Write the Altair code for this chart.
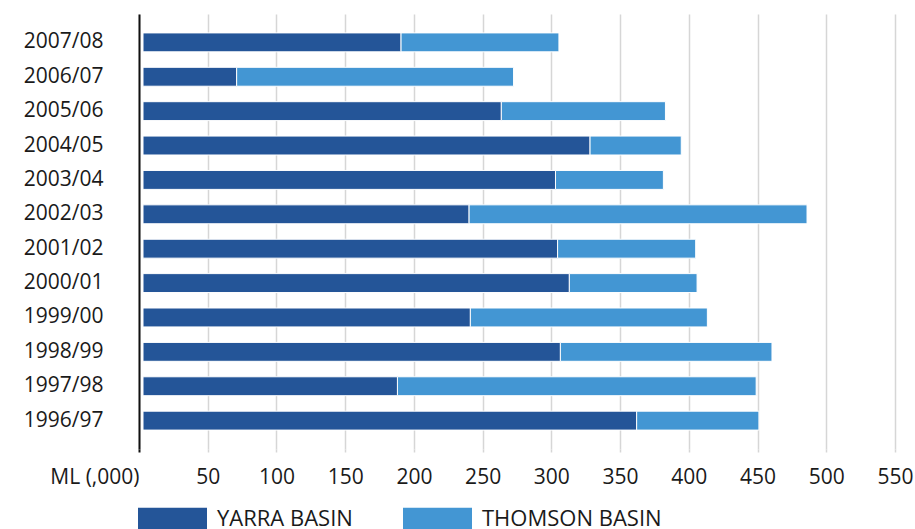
import altair as alt
import pandas as pd

# Annual diversions by basin, ML (,000)
years = ["2007/08", "2006/07", "2005/06", "2004/05", "2003/04", "2002/03",
         "2001/02", "2000/01", "1999/00", "1998/99", "1997/98", "1996/97"]
yarra = [190.5, 71, 263.5, 328, 303, 240, 304.5, 313, 241, 306.5, 188, 362]
thomson = [115, 201.5, 119.5, 66.5, 78.5, 246, 100.5, 93, 172.5, 154, 261, 89]

basins = ["YARRA BASIN", "THOMSON BASIN"]
colors = ["#245598", "#4396d3"]
x_ticks = list(range(0, 551, 50))

# Stacked segments: Yarra from 0, Thomson on top of Yarra
rows = []
for yr, a, b in zip(years, yarra, thomson):
    rows.append({"year": yr, "basin": basins[0], "start": 0, "end": a})
    rows.append({"year": yr, "basin": basins[1], "start": a, "end": a + b})
df = pd.DataFrame(rows)

FONT = "Open Sans"
TEXT = "#1a1a1a"
is_zero = "datum.value == 0"

y_enc = alt.Y(
    "year:N",
    sort=years,
    scale=alt.Scale(paddingInner=0.45, paddingOuter=0.55),
    axis=alt.Axis(
        title=None, ticks=False, grid=False,
        domainColor="#111111", domainWidth=2,
        labelPadding=36, labelFontSize=21, labelFont=FONT, labelColor=TEXT,
    ),
)

x_scale = alt.Scale(domain=[0, 550], nice=False)
x_axis = alt.Axis(
    title=None, values=x_ticks, domain=False,
    grid=True, gridColor="#d6d6d6", gridWidth=1.5,
    tickSize=3,
    tickColor={"condition": {"test": is_zero, "value": "#111111"}, "value": "#d6d6d6"},
    tickWidth={"condition": {"test": is_zero, "value": 2}, "value": 1.5},
    labelExpr="datum.value == 0 ? 'ML (,000)' : datum.label",
    labelAlign={"condition": {"test": is_zero, "value": "right"}, "value": "center"},
    labelPadding=14, labelFontSize=21, labelFont=FONT, labelColor=TEXT,
    labelOverlap=False, labelFlush=False,
)

color_enc = alt.Color(
    "basin:N",
    scale=alt.Scale(domain=basins, range=colors),
    legend=alt.Legend(
        title=None, orient="none", direction="horizontal",
        legendX=-1, legendY=470, padding=0,
        symbolType="M-1,-0.32L1,-0.32L1,0.32L-1,0.32Z",
        symbolSize=4761, symbolStrokeWidth=0, symbolOpacity=1,
        labelFontSize=22, labelFont=FONT, labelColor=TEXT,
        labelOffset=10, columnPadding=50, labelLimit=400,
    ),
)

base = alt.Chart(df)

# Yarra segments start just clear of the axis line
yarra_bars = base.transform_filter(
    alt.datum.basin == basins[0]
).mark_bar(stroke="white", strokeWidth=1, x2Offset=4).encode(
    y=y_enc,
    x=alt.X("end:Q", scale=x_scale, axis=x_axis),
    x2="start:Q",
    color=color_enc,
)

thomson_bars = base.transform_filter(
    alt.datum.basin == basins[1]
).mark_bar(stroke="white", strokeWidth=1).encode(
    y=y_enc,
    x=alt.X("end:Q", scale=x_scale, axis=x_axis),
    x2="start:Q",
    color=color_enc,
)

chart = alt.layer(thomson_bars, yarra_bars).properties(
    width=756,
    height=435,
    autosize=alt.AutoSizeParams(type="none"),
    padding={"left": 139, "top": 14, "right": 20, "bottom": 80},
).configure_view(stroke=None)

chart.save("out.html", embed_options={"renderer": "svg", "actions": False})
